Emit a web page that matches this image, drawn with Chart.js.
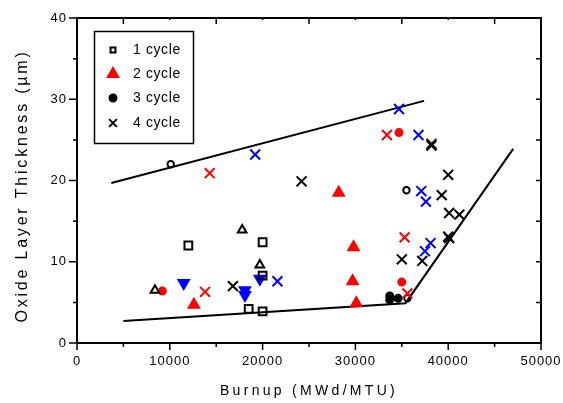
<!DOCTYPE html>
<html>
<head>
<meta charset="utf-8">
<script src="https://cdn.jsdelivr.net/npm/chart.js@4/dist/chart.umd.min.js"></script>
<style>
  body { margin: 0; background: #fff; }
  canvas { display: block; }
</style>
</head>
<body>
<canvas id="oxideChart" width="563" height="403"></canvas>
<script>
// burnup (MWd/MTU) vs oxide thickness (um)
const cycle1X = [12000, 20000, 20000, 18500, 20000];
const cycle1Y = [12.0, 12.4, 8.3, 4.2, 3.9];
const cycle2X = [12600, 28200, 29800, 29700, 30100];
const cycle2Y = [4.7, 18.5, 11.8, 7.6, 4.9];
const cycle3X = [33700, 33700, 34600];
const cycle3Y = [5.3, 5.8, 5.5];
const cycle4X = [16800, 24200, 38200, 38200, 40000, 39300, 40100, 41200, 40100, 40000, 35000, 37200];
const cycle4Y = [7.0, 19.9, 24.3, 24.5, 20.7, 18.2, 16.0, 15.8, 12.9, 13.1, 10.3, 10.1];

// extra marker groups (not in legend)
const openTriX = [8400, 17800, 19700];
const openTriY = [6.5, 13.9, 9.6];
const blueDownX = [11500, 18100, 18100, 19700];
const blueDownY = [7.4, 6.5, 5.9, 7.9];
const redDotX = [9200, 34700, 35000];
const redDotY = [6.4, 25.9, 7.5];
const redCrossX = [14300, 13800, 33400, 35300, 35600];
const redCrossY = [20.9, 6.3, 25.6, 13.0, 6.1];
const blueCrossX = [19200, 21600, 34700, 36800, 37100, 37600, 38100, 37500];
const blueCrossY = [23.2, 7.6, 28.8, 25.6, 18.7, 17.4, 12.3, 11.3];
const openDotX = [10100, 35500, 35600];
const openDotY = [22.0, 18.8, 5.5];

// envelope lines
const upperX = [3700, 37400];
const upperY = [19.7, 29.8];
const lowerX = [5000, 35400, 47000];
const lowerY = [2.7, 4.9, 23.9];

const xTicks = [0, 10000, 20000, 30000, 40000, 50000];
const yTicks = [0, 10, 20, 30, 40];

const pts = (xs, ys) => xs.map((x, i) => ({ x: x, y: ys[i] }));
const FONT = 'Arial, "Liberation Sans", sans-serif';
const RED = '#ff0000', BLUE = '#0000ff', BLACK = '#000000';

function marks(label, xs, ys, style, color, r, filled, rot) {
  return {
    label: label,
    data: pts(xs, ys),
    pointStyle: style,
    pointRadius: r,
    pointHoverRadius: r,
    pointRotation: rot || 0,
    pointBorderWidth: 2,
    borderColor: color,
    backgroundColor: filled ? color : 'rgba(0,0,0,0)',
    showLine: false
  };
}
function line(xs, ys) {
  return {
    label: '',
    data: pts(xs, ys),
    showLine: true,
    pointRadius: 0,
    borderColor: BLACK,
    borderWidth: 2,
    fill: false
  };
}

const datasets = [
  marks('1 cycle', cycle1X, cycle1Y, 'rect', BLACK, 5.5, false),
  marks('2 cycle', cycle2X, cycle2Y, 'triangle', RED, 6, true),
  marks('3 cycle', cycle3X, cycle3Y, 'circle', BLACK, 3.5, true),
  marks('4 cycle', cycle4X, cycle4Y, 'crossRot', BLACK, 7, false),
  marks('', openTriX, openTriY, 'triangle', BLACK, 5, false),
  marks('', blueDownX, blueDownY, 'triangle', BLUE, 6, true, 180),
  marks('', redDotX, redDotY, 'circle', RED, 3.5, true),
  marks('', redCrossX, redCrossY, 'crossRot', RED, 7, false),
  marks('', blueCrossX, blueCrossY, 'crossRot', BLUE, 7, false),
  marks('', openDotX, openDotY, 'circle', BLACK, 3.2, false),
  line(upperX, upperY),
  line(lowerX, lowerY)
];

// box, mirrored ticks, titles and inset legend
const decor = {
  id: 'decor',
  beforeDraw(chart) {
    chart.ctx.letterSpacing = '1px';
  },
  afterDraw(chart) {
    const ctx = chart.ctx;
    const a = chart.chartArea;
    const x = chart.scales.x, y = chart.scales.y;
    ctx.save();
    ctx.strokeStyle = BLACK;
    ctx.lineWidth = 2;
    ctx.strokeRect(a.left, a.top, a.right - a.left, a.bottom - a.top);

    ctx.lineWidth = 1.5;
    ctx.beginPath();
    for (let v = 0; v <= 50000; v += 5000) {
      const px = x.getPixelForValue(v);
      const major = v % 10000 === 0;
      ctx.moveTo(px, a.bottom); ctx.lineTo(px, a.bottom + (major ? 7 : 4));
      ctx.moveTo(px, a.top); ctx.lineTo(px, a.top + (major ? 2 : 6));
    }
    for (let v = 0; v <= 40; v += 5) {
      const py = y.getPixelForValue(v);
      const major = v % 10 === 0;
      ctx.moveTo(a.left, py); ctx.lineTo(a.left - (major ? 8 : 4), py);
      ctx.moveTo(a.right, py); ctx.lineTo(a.right - 5, py);
    }
    ctx.stroke();

    // axis titles
    ctx.fillStyle = BLACK;
    ctx.textAlign = 'center';
    ctx.textBaseline = 'middle';
    ctx.font = '14px ' + FONT;
    ctx.letterSpacing = '3.3px';
    ctx.fillText('Burnup (MWd/MTU)', (a.left + a.right) / 2, 391);
    ctx.save();
    ctx.translate(23, 186);
    ctx.rotate(-Math.PI / 2);
    ctx.font = '16px ' + FONT;
    ctx.letterSpacing = '2.8px';
    ctx.fillText('Oxide Layer Thickness (\u00b5m)', 0, 0);
    ctx.restore();

    // legend box
    ctx.lineWidth = 1.5;
    ctx.strokeRect(94.5, 31.5, 99, 112);
    ctx.font = '14px ' + FONT;
    ctx.letterSpacing = '0.6px';
    ctx.textAlign = 'left';
    const rows = [50, 74, 98, 123];
    const sizes = [3.5, 6, 3.5, 5.5];
    for (let i = 0; i < 4; i++) {
      const ds = chart.data.datasets[i];
      ctx.strokeStyle = ds.borderColor;
      ctx.fillStyle = ds.backgroundColor;
      ctx.lineWidth = 2;
      Chart.helpers.drawPoint(ctx, {
        pointStyle: ds.pointStyle, radius: sizes[i], rotation: 0, borderWidth: 2
      }, 113, rows[i]);
      ctx.fillStyle = BLACK;
      ctx.fillText(ds.label, 133, rows[i]);
    }
    ctx.restore();
  }
};

new Chart(document.getElementById('oxideChart').getContext('2d'), {
  type: 'scatter',
  data: { datasets: datasets },
  options: {
    responsive: false,
    animation: false,
    layout: { padding: { top: 18, right: 22, left: 0, bottom: 0 } },
    plugins: {
      legend: { display: false },
      tooltip: { enabled: false }
    },
    scales: {
      x: {
        type: 'linear',
        min: 0,
        max: 50000,
        afterBuildTicks: s => { s.ticks = xTicks.map(v => ({ value: v })); },
        ticks: { color: BLACK, font: { size: 13, family: FONT }, padding: 11, callback: v => String(v) },
        grid: { display: false, drawTicks: false },
        border: { display: false },
        afterFit: s => { s.height = 60; s.paddingLeft = 0; s.paddingRight = 0; }
      },
      y: {
        min: 0,
        max: 40,
        afterBuildTicks: s => { s.ticks = yTicks.map(v => ({ value: v })); },
        ticks: { color: BLACK, font: { size: 13, family: FONT }, padding: 10, callback: v => String(v) },
        grid: { display: false, drawTicks: false },
        border: { display: false },
        afterFit: s => { s.width = 77; s.paddingTop = 0; s.paddingBottom = 0; }
      }
    }
  },
  plugins: [decor]
});
</script>
</body>
</html>
